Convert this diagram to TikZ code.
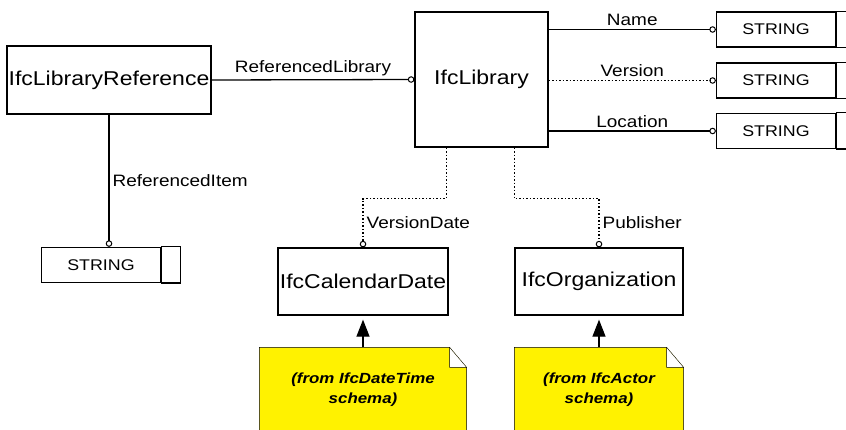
\documentclass[tikz,border=0pt]{standalone}
\usepackage{fontspec}
\setmainfont{Liberation Sans}
\newfontfamily\exprfont[FakeStretch=1.15]{Liberation Sans}
\usetikzlibrary{positioning,arrows.meta,backgrounds}

\begin{document}
\begin{tikzpicture}[x=1pt,y=-1pt,line width=1.3pt,
  ent/.style={draw,inner sep=0pt,font=\exprfont\fontsize{20}{24}\selectfont},
  typ/.style={draw,inner sep=0pt,minimum width=119pt,minimum height=35pt,font=\exprfont\fontsize{15.5}{18}\selectfont},
  memo/.style={inner sep=0pt,align=center,font=\exprfont\bfseries\itshape\fontsize{14.7}{20}\selectfont},
  attr/.style={-{Circle[open,length=6.5pt,width=6.5pt,line width=1pt]}},
  opt/.style={attr,dash pattern=on 1.5pt off 2pt},
  lbl/.style={inner sep=3pt,font=\exprfont\fontsize{16.5}{18}\selectfont},
  gen/.style={-{Triangle[length=17pt,width=13pt]},shorten >=4pt}]
  \useasboundingbox (0,0) rectangle (846,430);

  % entities
  \node[ent,minimum width=204pt,minimum height=68pt] (libref) at (109,80) {IfcLibraryReference};
  \node[ent,minimum width=133pt,minimum height=135pt] (lib) at (481.5,79.5) {IfcLibrary};
  \node[ent,minimum width=170pt,minimum height=67pt] (caldate) at (363,281.5) {IfcCalendarDate};
  \node[ent,minimum width=168pt,minimum height=67pt] (org) at (599,281.5) {IfcOrganization};

  % simple types
  \node[typ] (sname) at (776,29.5) {STRING};
  \node[typ] (sver) at (776,80.5) {STRING};
  \node[typ] (sloc) at (776,131) {STRING};
  \node[typ] (sitem) at (101,265) {STRING};
  \foreach \s in {sname,sver,sloc,sitem}
    \draw (\s.north east) rectangle ([xshift=19pt]\s.south east);

  % schema notes
  \node[memo,minimum width=206pt,minimum height=84pt] (dtnote) at (363,390) {(from IfcDateTime\\schema)};
  \node[memo,minimum width=168pt,minimum height=84pt] (actnote) at (599,390) {(from IfcActor\\schema)};
  \begin{scope}[on background layer]
    \foreach \n in {dtnote,actnote}
      \draw[fill=yellow] (\n.north west) -- ([xshift=-17pt]\n.north east)
        -- ([yshift=-20pt]\n.north east) -- (\n.south east) -- (\n.south west) -- cycle
        ([xshift=-17pt]\n.north east) |- ([yshift=-20pt]\n.north east);
  \end{scope}

  % attributes
  \draw[attr] (libref.east) -- (lib.west) node[lbl,midway,above] {ReferencedLibrary};
  \draw[attr] (libref.south) -- (libref.south |- sitem.north) node[lbl,midway,right] {ReferencedItem};
  \draw[attr] (sname.west -| lib.east) -- (sname.west) node[lbl,midway,above] {Name};
  \draw[opt] (sver.west -| lib.east) -- (sver.west) node[lbl,midway,above] {Version};
  \draw[attr] (sloc.west -| lib.east) -- (sloc.west) node[lbl,midway,above] {Location};
  \draw[opt] ([xshift=32pt]lib.south west) -- ++(0,51) -| (caldate.north) node[lbl,pos=0.75,right] {VersionDate};
  \draw[opt] ([xshift=100pt]lib.south west) -- ++(0,51) -| (org.north) node[lbl,pos=0.75,right] {Publisher};

  \draw[gen] (dtnote.north) -- (caldate.south);
  \draw[gen] (actnote.north) -- (org.south);
\end{tikzpicture}
\end{document}
